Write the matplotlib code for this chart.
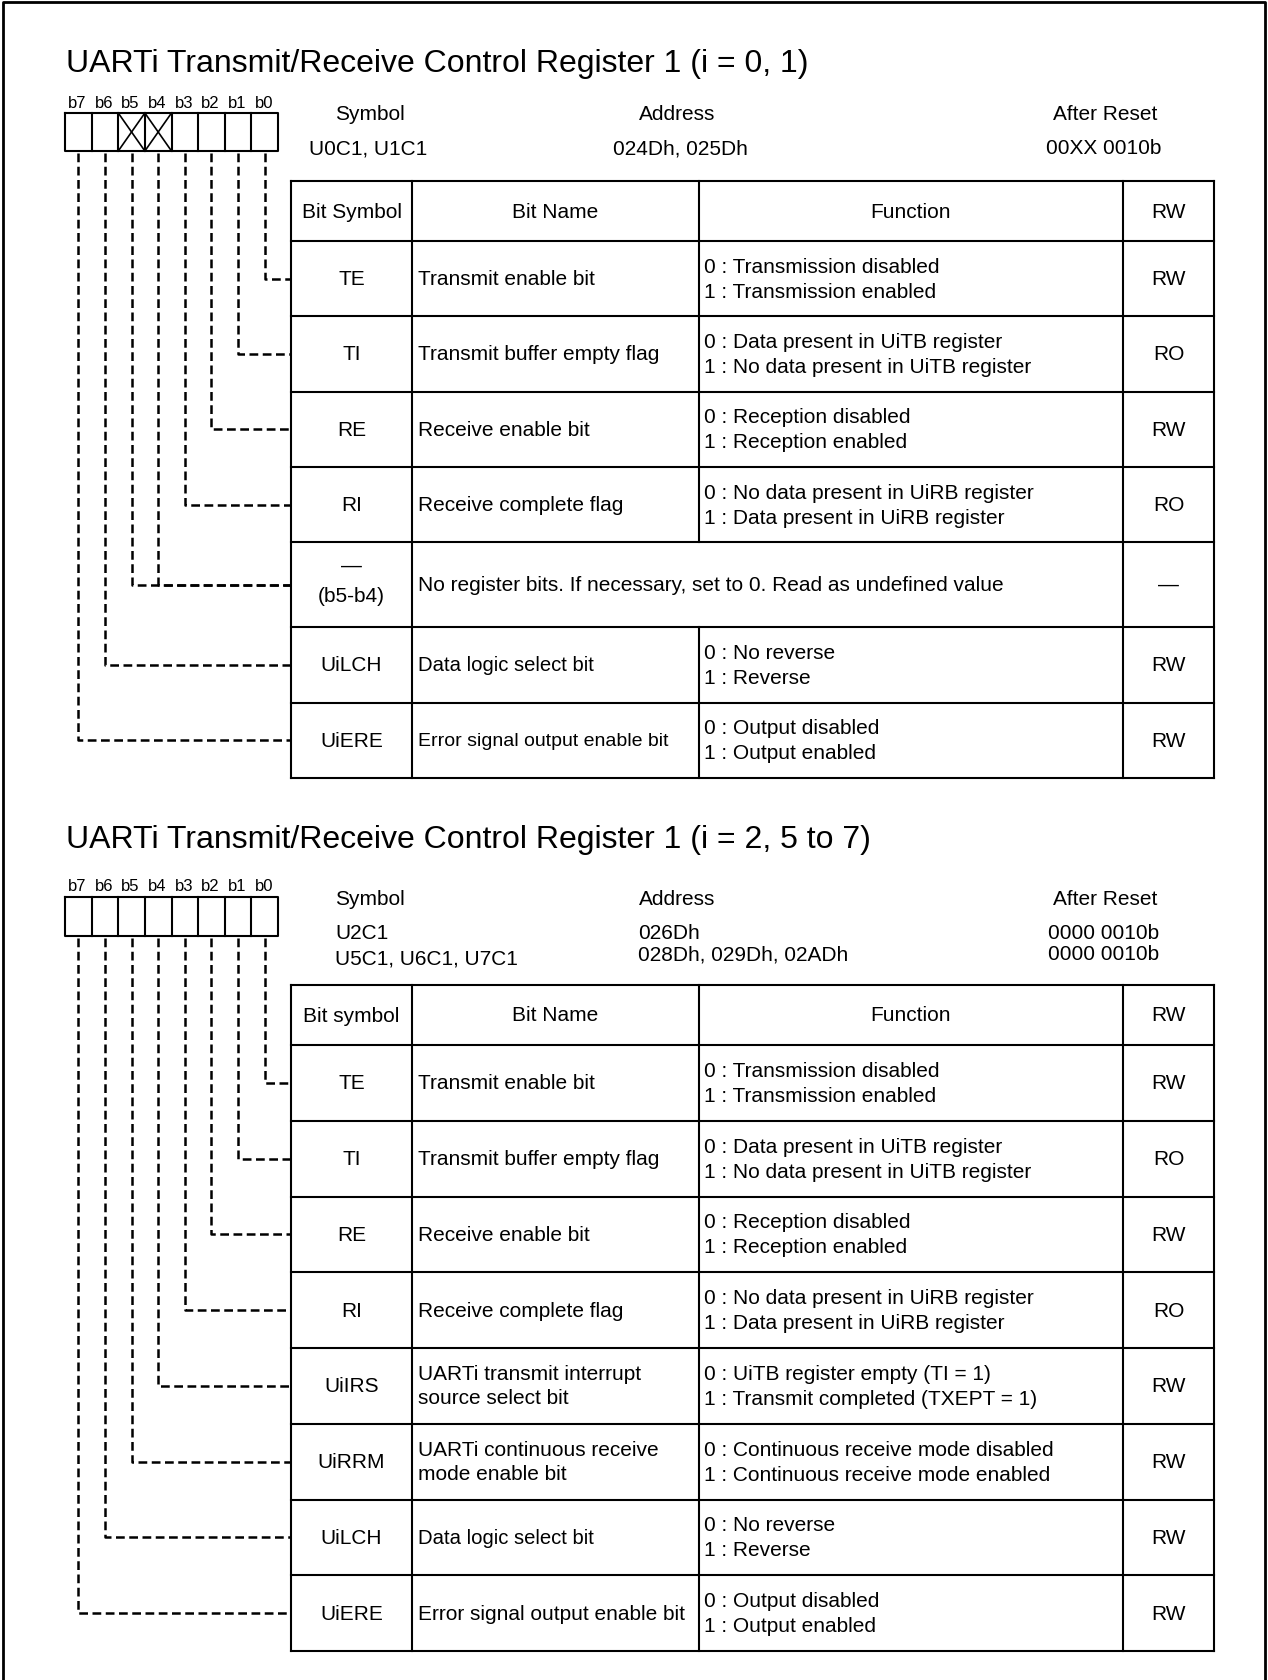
import matplotlib
matplotlib.use('Agg')
import matplotlib.pyplot as plt

plt.rcParams['font.family'] = ['Liberation Sans', 'DejaVu Sans']

## Register 1 (i = 0, 1)
reg1Title = "UARTi Transmit/Receive Control Register 1 (i = 0, 1)"
reg1Symbols = ["U0C1, U1C1"]
reg1Addresses = ["024Dh, 025Dh"]
reg1Resets = ["00XX 0010b"]
reg1Unused = [5, 4]
reg1Header = ["Bit Symbol", "Bit Name", "Function", "RW"]
reg1BitSymbols = ["TE", "TI", "RE", "RI", "—\n(b5-b4)", "UiLCH", "UiERE"]
reg1BitNames = ["Transmit enable bit", "Transmit buffer empty flag", "Receive enable bit",
                "Receive complete flag",
                "No register bits. If necessary, set to 0. Read as undefined value",
                "Data logic select bit", "Error signal output enable bit"]
reg1Functions = [["0 : Transmission disabled", "1 : Transmission enabled"],
                 ["0 : Data present in UiTB register", "1 : No data present in UiTB register"],
                 ["0 : Reception disabled", "1 : Reception enabled"],
                 ["0 : No data present in UiRB register", "1 : Data present in UiRB register"],
                 None,
                 ["0 : No reverse", "1 : Reverse"],
                 ["0 : Output disabled", "1 : Output enabled"]]
reg1RW = ["RW", "RO", "RW", "RO", "—", "RW", "RW"]
reg1Bits = [[0], [1], [2], [3], [5, 4], [6], [7]]
reg1NameSizes = [15, 15, 15, 15, 15, 14.6, 14]

## Register 1 (i = 2, 5 to 7)
reg2Title = "UARTi Transmit/Receive Control Register 1 (i = 2, 5 to 7)"
reg2Symbols = ["U2C1", "U5C1, U6C1, U7C1"]
reg2Addresses = ["026Dh", "028Dh, 029Dh, 02ADh"]
reg2Resets = ["0000 0010b", "0000 0010b"]
reg2Unused = []
reg2Header = ["Bit symbol", "Bit Name", "Function", "RW"]
reg2BitSymbols = ["TE", "TI", "RE", "RI", "UiIRS", "UiRRM", "UiLCH", "UiERE"]
reg2BitNames = ["Transmit enable bit", "Transmit buffer empty flag", "Receive enable bit",
                "Receive complete flag", "UARTi transmit interrupt\nsource select bit",
                "UARTi continuous receive\nmode enable bit", "Data logic select bit",
                "Error signal output enable bit"]
reg2Functions = [["0 : Transmission disabled", "1 : Transmission enabled"],
                 ["0 : Data present in UiTB register", "1 : No data present in UiTB register"],
                 ["0 : Reception disabled", "1 : Reception enabled"],
                 ["0 : No data present in UiRB register", "1 : Data present in UiRB register"],
                 ["0 : UiTB register empty (TI = 1)", "1 : Transmit completed (TXEPT = 1)"],
                 ["0 : Continuous receive mode disabled", "1 : Continuous receive mode enabled"],
                 ["0 : No reverse", "1 : Reverse"],
                 ["0 : Output disabled", "1 : Output enabled"]]
reg2RW = ["RW", "RO", "RW", "RO", "RW", "RW", "RW", "RW"]
reg2Bits = [[0], [1], [2], [3], [4], [5], [6], [7]]
reg2NameSizes = [15, 15, 15, 15, 15, 15, 14.6, 15]

W, H = 1268, 1681
colX = [291, 412, 699, 1123, 1214]
boxLeft, boxRight = 65, 278
FS = 15
LW = 1.5
DASH = (0, (3.5, 1.8))


def _line(ax, xs, ys, **kw):
    ax.plot(xs, ys, color='black', lw=kw.pop('lw', LW), solid_capstyle='projecting', **kw)


def drawRegister(ax, title, titleY, labelY, boxTop, boxBottom, infoY, symX, addrCenter, symbols,
                 addresses, resets, unused, header, tableTop, headerH, rowHeights, bitSymbols,
                 bitNames, nameSizes, functions, rws, bits):
    ax.text(66, titleY, title, fontsize=23, va='center', ha='left')

    ## caixa dos bits
    cellW = (boxRight - boxLeft) / 8
    _line(ax, [boxLeft, boxRight, boxRight, boxLeft, boxLeft], [boxTop, boxTop, boxBottom, boxBottom, boxTop])
    for i in range(1, 8):
        x = boxLeft + i * cellW
        _line(ax, [x, x], [boxTop, boxBottom])
    bitX = {}
    for b in range(8):
        cx = boxLeft + (7 - b + 0.5) * cellW
        bitX[b] = cx
        ax.text(cx - 1, labelY, 'b%d' % b, fontsize=12, ha='center', va='center')
    for b in unused:
        x0 = boxLeft + (7 - b) * cellW
        _line(ax, [x0, x0 + cellW], [boxTop, boxBottom], lw=1.2)
        _line(ax, [x0, x0 + cellW], [boxBottom, boxTop], lw=1.2)

    ## cabeçalho Symbol / Address / After Reset
    ax.text(335, infoY[0], "Symbol", fontsize=FS, ha='left', va='center')
    ax.text(677, infoY[0], "Address", fontsize=FS, ha='center', va='center')
    ax.text(1105, infoY[0], "After Reset", fontsize=FS, ha='center', va='center')
    for k in range(len(symbols)):
        y = infoY[1 + k]
        ax.text(symX, y + (4 if k == 1 else 0), symbols[k], fontsize=FS, ha='left', va='center')
        if addrCenter:
            ax.text(680, y, addresses[k], fontsize=FS, ha='center', va='center')
        else:
            ax.text(638, y, addresses[k], fontsize=FS, ha='left', va='center')
        ax.text(1104, y, resets[k], fontsize=FS, ha='center', va='center')

    ## tabela
    ys = [tableTop, tableTop + headerH]
    for h in rowHeights:
        ys.append(ys[-1] + h)
    tableBottom = ys[-1]
    for y in ys:
        _line(ax, [colX[0], colX[-1]], [y, y])
    _line(ax, [colX[0], colX[0]], [tableTop, tableBottom])
    _line(ax, [colX[1], colX[1]], [tableTop, tableBottom])
    _line(ax, [colX[3], colX[3]], [tableTop, tableBottom])
    _line(ax, [colX[4], colX[4]], [tableTop, tableBottom])
    for r in range(len(rowHeights) + 1):
        if r == 0 or functions[r - 1] is not None:
            _line(ax, [colX[2], colX[2]], [ys[r], ys[r + 1]])

    hc = (ys[0] + ys[1]) / 2
    for c in range(4):
        ax.text((colX[c] + colX[c + 1]) / 2, hc, header[c], fontsize=FS, ha='center', va='center')

    for r in range(len(rowHeights)):
        yc = (ys[r + 1] + ys[r + 2]) / 2
        parts = bitSymbols[r].split('\n')
        sx = (colX[0] + colX[1]) / 2
        if len(parts) == 1:
            ax.text(sx, yc, parts[0], fontsize=FS, ha='center', va='center')
        else:
            ax.text(sx, yc - 19, parts[0], fontsize=FS, ha='center', va='center')
            ax.text(sx, yc + 11, parts[1], fontsize=FS, ha='center', va='center')
        nameLines = bitNames[r].split('\n')
        if len(nameLines) == 1:
            ax.text(colX[1] + 6, yc, nameLines[0], fontsize=nameSizes[r], ha='left', va='center')
        else:
            ax.text(colX[1] + 6, yc - 12, nameLines[0], fontsize=nameSizes[r], ha='left', va='center')
            ax.text(colX[1] + 6, yc + 12, nameLines[1], fontsize=nameSizes[r], ha='left', va='center')
        if functions[r] is not None:
            ax.text(colX[2] + 5, yc - 12.5, functions[r][0], fontsize=FS, ha='left', va='center')
            ax.text(colX[2] + 5, yc + 12.5, functions[r][1], fontsize=FS, ha='left', va='center')
        ax.text((colX[3] + colX[4]) / 2, yc, rws[r], fontsize=FS, ha='center', va='center')

        ## linhas tracejadas dos bits até a linha
        for b in bits[r]:
            ax.plot([bitX[b], bitX[b], colX[0]], [boxBottom + 2, yc, yc], color='black',
                    lw=1.8, linestyle=DASH)


fig = plt.figure(figsize=(W / 100, H / 100), dpi=100)
ax = fig.add_axes([0, 0, 1, 1])
ax.set_xlim(0, W)
ax.set_ylim(H, 0)
ax.axis('off')

## moldura
ax.plot([3, 3, 1265, 1265], [H + 10, 3, 3, H + 10], color='black', lw=2)

drawRegister(ax, reg1Title, 64, 103, 114, 152, [115, 149], 309, True, reg1Symbols, reg1Addresses,
             reg1Resets, reg1Unused, reg1Header, 182, 60, [75.3, 75.3, 75.3, 75.3, 85, 75.5, 75.5],
             reg1BitSymbols, reg1BitNames, reg1NameSizes, reg1Functions, reg1RW, reg1Bits)
drawRegister(ax, reg2Title, 840, 887, 898, 937, [900, 934, 955], 335, False, reg2Symbols, reg2Addresses,
             reg2Resets, reg2Unused, reg2Header, 986, 60, [75.75] * 8,
             reg2BitSymbols, reg2BitNames, reg2NameSizes, reg2Functions, reg2RW, reg2Bits)

fig.savefig('out.png', dpi=100)
